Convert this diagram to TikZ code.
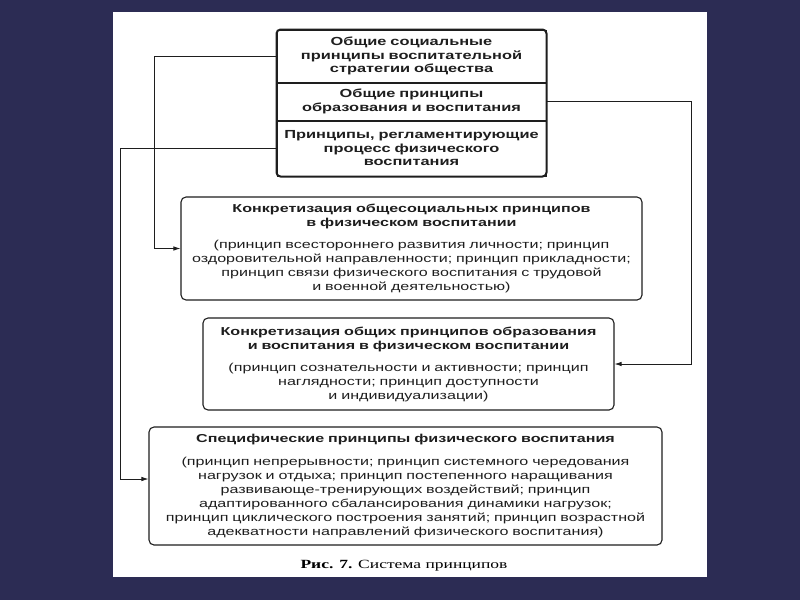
\documentclass[tikz,border=0pt]{standalone}
\usepackage{fontspec}
\setmainfont{Liberation Sans}[FakeStretch=1.4]
\newfontfamily\capfont{Liberation Serif}[FakeStretch=1.4]
\usepackage{xcolor}
\usetikzlibrary{arrows.meta, positioning}
\definecolor{slidebg}{RGB}{44,44,84}
\definecolor{ink}{RGB}{30,30,30}

\begin{document}
\begin{tikzpicture}[
        x=1pt, y=-1pt,
        cell/.style={rectangle, draw=ink, line width=1pt, text width=266pt, minimum width=269pt, inner sep=0pt, align=center, font=\fontsize{11.7}{13.5}\selectfont\bfseries, text=ink},
        box/.style={rectangle, draw=ink, line width=1.1pt, rounded corners=5pt, inner sep=0pt, align=center, font=\fontsize{11.5}{14}\selectfont, text=ink},
        arrow/.style={line width=0.8pt, draw=ink, -{Latex[length=7pt, width=4.5pt]}}
    ]
        \fill[slidebg] (0,0) rectangle (800,600);
        \fill[white] (113,12) rectangle (707,577);

        \node (s1) [cell, minimum height=52pt] at (411.5,56) {Общие социальные\\ принципы воспитательной\\ стратегии общества};
        \node (s2) [cell, minimum height=37pt, below=0pt of s1] {Общие принципы\\ образования и воспитания};
        \node (s3) [cell, minimum height=55pt, below=0pt of s2] {Принципы, регламентирующие\\ процесс физического\\ воспитания};
        \draw [ink, line width=2pt, rounded corners=4pt] (s1.north west) rectangle (s3.south east);

        \node (b2) [box, text width=451pt, minimum width=461pt, minimum height=103pt] at (411.5,248.5) {{\bfseries Конкретизация общесоциальных принципов\\ в физическом воспитании}\\[8pt] (принцип всестороннего развития личности; принцип\\ оздоровительной направленности; принцип прикладности;\\ принцип связи физического воспитания с трудовой\\ и военной деятельностью)};
        \node (b3) [box, text width=401pt, minimum width=411pt, minimum height=92pt] at (408.5,364) {{\bfseries Конкретизация общих принципов образования\\ и воспитания в физическом воспитании}\\[8pt] (принцип сознательности и активности; принцип\\ наглядности; принцип доступности\\ и индивидуализации)};
        \node (b4) [box, text width=505pt, minimum width=513pt, minimum height=118pt] at (405.5,486) {{\bfseries Специфические принципы физического воспитания}\\[9pt] (принцип непрерывности; принцип системного чередования\\ нагрузок и отдыха; принцип постепенного наращивания\\ развивающе-тренирующих воздействий; принцип\\ адаптированного сбалансирования динамики нагрузок;\\ принцип циклического построения занятий; принцип возрастной\\ адекватности направлений физического воспитания)};

        \node (cap) at (404,566) {\capfont\fontsize{12.5}{14}\selectfont\textbf{Рис. 7.} Система принципов};

        \draw [arrow] (s1.west) -- ++(-122,0) |- (b2.west);
        \draw [arrow] (s3.west) -- ++(-156,0) |- ([yshift=7pt]b4.west);
        \draw [arrow] (s2.east) -- ++(145,0) |- (b3.east);
    \end{tikzpicture}
\end{document}
